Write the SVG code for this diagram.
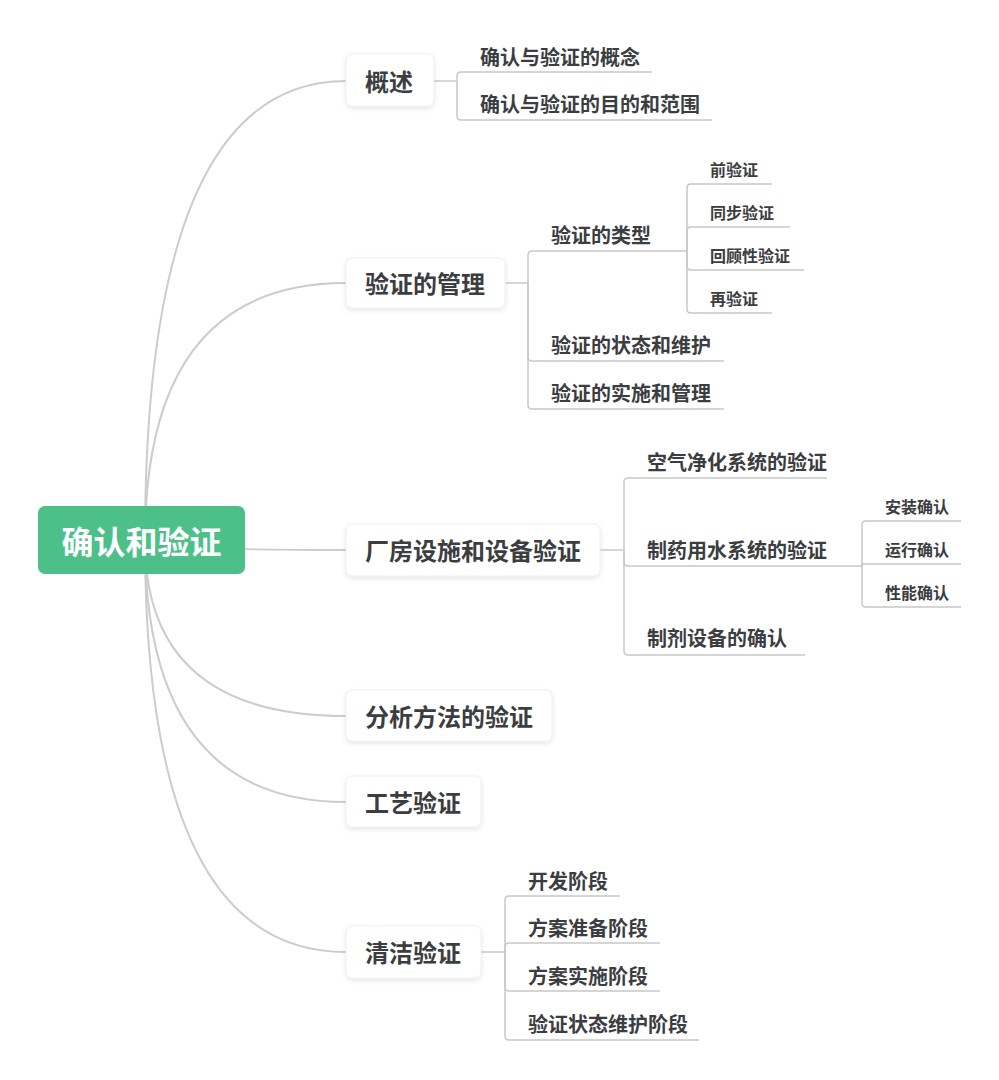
<svg xmlns="http://www.w3.org/2000/svg" width="999" height="1080" viewBox="0 0 999 1080">
<defs>
<style>
text{font-family:"Noto Sans CJK SC","Noto Sans",sans-serif;font-weight:bold;fill:#3b3d40;dominant-baseline:central}
.l1{font-size:24px}
.l2{font-size:20px}
.l3{font-size:16px}
.root{font-size:32px;fill:#ffffff}
.box{fill:#ffffff;stroke:#eeeeee;stroke-width:1}
.curve{fill:none;stroke:#cccccc;stroke-width:2}
.link{fill:none;stroke:#c8c8c8;stroke-width:1.5}
</style>
<filter id="sh" x="-20%" y="-30%" width="140%" height="170%">
<feDropShadow dx="0" dy="2" stdDeviation="2.5" flood-color="#000000" flood-opacity="0.10"/>
</filter>
</defs>
<rect width="999" height="1080" fill="#ffffff"/>
<g id="connectors">
<path class="curve" d="M145,541 Q145,81 346,81"/>
<path class="curve" d="M145,541 Q145,283 346,283"/>
<path class="curve" d="M145,541 Q145,550 346,550"/>
<path class="curve" d="M145,541 Q145,716 346,716"/>
<path class="curve" d="M145,541 Q145,802 346,802"/>
<path class="curve" d="M145,541 Q145,952 346,952"/>
<path class="link" d="M434,81 H457"/>
<path class="link" d="M457,81 V76 Q457,72 461,72 H652"/>
<path class="link" d="M457,81 V116 Q457,120 461,120 H712"/>
<path class="link" d="M505,283 H528"/>
<path class="link" d="M528,283 V255 Q528,251 532,251 H687"/>
<path class="link" d="M528,283 V357 Q528,361 532,361 H724"/>
<path class="link" d="M528,283 V405 Q528,409 532,409 H724"/>
<path class="link" d="M687,251 V188 Q687,184 691,184 H772"/>
<path class="link" d="M687,251 V231 Q687,227 691,227 H790"/>
<path class="link" d="M687,251 V266 Q687,270 691,270 H804"/>
<path class="link" d="M687,251 V309 Q687,313 691,313 H772"/>
<path class="link" d="M600,550 H624"/>
<path class="link" d="M624,550 V482 Q624,478 628,478 H827"/>
<path class="link" d="M624,550 V562 Q624,566 628,566 H862"/>
<path class="link" d="M624,550 V651 Q624,655 628,655 H805"/>
<path class="link" d="M862,566 V525 Q862,521 866,521 H961"/>
<path class="link" d="M862,566 V564 H961"/>
<path class="link" d="M862,566 V603 Q862,607 866,607 H961"/>
<path class="link" d="M481,952 H505"/>
<path class="link" d="M505,952 V900 Q505,896 509,896 H620"/>
<path class="link" d="M505,952 V947 Q505,943 509,943 H660"/>
<path class="link" d="M505,952 V987 Q505,991 509,991 H660"/>
<path class="link" d="M505,952 V1036 Q505,1040 509,1040 H699"/>
</g>
<g id="root">
<rect x="38" y="506" width="207" height="68" rx="7" fill="#4dc08a"/>
<text class="root" x="141.5" y="540" text-anchor="middle">确认和验证</text>
</g>
<g id="n-gaishu">
<rect class="box" x="346" y="54" width="88" height="52" rx="6" filter="url(#sh)"/>
<text class="l1" x="365" y="80">概述</text>
</g>
<g id="n-gaishu-1"><text class="l2" x="480" y="56">确认与验证的概念</text></g>
<g id="n-gaishu-2"><text class="l2" x="480" y="103">确认与验证的目的和范围</text></g>
<g id="n-guanli">
<rect class="box" x="346" y="258" width="159" height="50" rx="6" filter="url(#sh)"/>
<text class="l1" x="365" y="282">验证的管理</text>
</g>
<g id="n-leixing"><text class="l2" x="551" y="234">验证的类型</text></g>
<g id="n-qian"><text class="l3" x="710" y="169">前验证</text></g>
<g id="n-tongbu"><text class="l3" x="710" y="212">同步验证</text></g>
<g id="n-huigu"><text class="l3" x="710" y="255">回顾性验证</text></g>
<g id="n-zai"><text class="l3" x="710" y="298">再验证</text></g>
<g id="n-zhuangtai"><text class="l2" x="551" y="344">验证的状态和维护</text></g>
<g id="n-shishi"><text class="l2" x="551" y="392">验证的实施和管理</text></g>
<g id="n-changfang">
<rect class="box" x="346" y="524" width="254" height="52" rx="6" filter="url(#sh)"/>
<text class="l1" x="365" y="549">厂房设施和设备验证</text>
</g>
<g id="n-kongqi"><text class="l2" x="647" y="461">空气净化系统的验证</text></g>
<g id="n-zhiyao"><text class="l2" x="647" y="549">制药用水系统的验证</text></g>
<g id="n-anzhuang"><text class="l3" x="885" y="506">安装确认</text></g>
<g id="n-yunxing"><text class="l3" x="885" y="549">运行确认</text></g>
<g id="n-xingneng"><text class="l3" x="885" y="592">性能确认</text></g>
<g id="n-zhiji"><text class="l2" x="647" y="637">制剂设备的确认</text></g>
<g id="n-fenxi">
<rect class="box" x="346" y="690" width="206" height="51" rx="6" filter="url(#sh)"/>
<text class="l1" x="365" y="715">分析方法的验证</text>
</g>
<g id="n-gongyi">
<rect class="box" x="346" y="776" width="135" height="51" rx="6" filter="url(#sh)"/>
<text class="l1" x="365" y="801">工艺验证</text>
</g>
<g id="n-qingjie">
<rect class="box" x="346" y="926" width="135" height="52" rx="6" filter="url(#sh)"/>
<text class="l1" x="365" y="951">清洁验证</text>
</g>
<g id="n-kaifa"><text class="l2" x="528" y="880">开发阶段</text></g>
<g id="n-zhunbei"><text class="l2" x="528" y="927">方案准备阶段</text></g>
<g id="n-fashishi"><text class="l2" x="528" y="975">方案实施阶段</text></g>
<g id="n-weihu"><text class="l2" x="528" y="1023">验证状态维护阶段</text></g>
</svg>
